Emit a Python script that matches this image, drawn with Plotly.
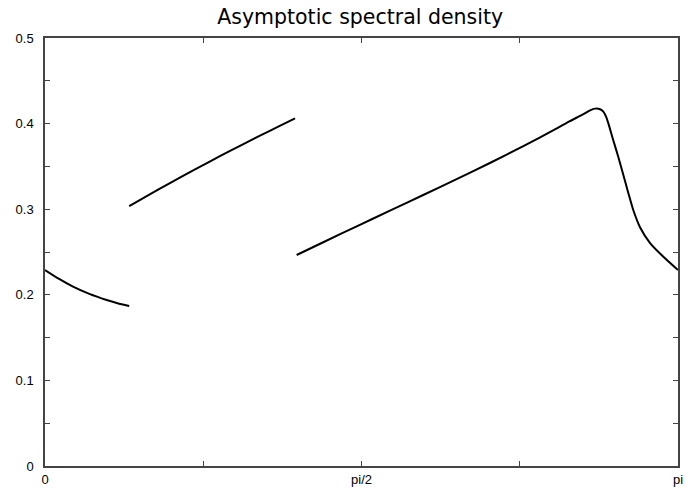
import math
import plotly.graph_objects as go

# Segment 1 (0 .. 2pi/15)
seg1_x = [0.0, 0.07, 0.139, 0.22, 0.306, 0.36, 0.418]
seg1_y = [0.2290, 0.2185, 0.2095, 0.2010, 0.1939, 0.1902, 0.1869]
# Segment 2 (2pi/15 .. 2pi/5)
seg2_x = [0.418, 0.52, 0.620, 0.74, 0.868, 0.97, 1.067, 1.16, 1.241]
seg2_y = [0.3037, 0.3174, 0.3305, 0.3459, 0.3619, 0.3743, 0.3859, 0.3968, 0.4062]
# Segment 3 (2pi/5 .. pi)
seg3_x = [1.249, 1.381, 1.547, 1.712, 1.877, 2.043, 2.208, 2.374, 2.540, 2.605, 2.672,
          2.705, 2.730, 2.755, 2.771, 2.784, 2.796, 2.820, 2.845, 2.870, 2.895, 2.920,
          2.953, 3.003, 3.069, 3.1416]
seg3_y = [0.2465, 0.2614, 0.2800, 0.2983, 0.3166, 0.3352, 0.3540, 0.3736, 0.3944, 0.4029, 0.4110,
          0.4155, 0.4175, 0.4168, 0.4139, 0.4085, 0.4003, 0.3808, 0.3613, 0.3402, 0.3190, 0.2988,
          0.2790, 0.2605, 0.2445, 0.2290]

x_tickvals = [0, math.pi / 4, math.pi / 2, 3 * math.pi / 4, math.pi]
x_ticktext = ["0", "", "pi/2", "", "pi"]
y_tickvals = [i * 0.05 for i in range(11)]
y_ticktext = ["0" if i == 0 else (f"{i*0.05:.1f}" if i % 2 == 0 else "") for i in range(11)]

fig = go.Figure()
for xs, ys in [(seg1_x, seg1_y), (seg2_x, seg2_y), (seg3_x, seg3_y)]:
    fig.add_trace(go.Scatter(x=xs, y=ys, mode="lines",
                             line=dict(color="black", width=2, shape="spline", smoothing=0.6),
                             showlegend=False, hoverinfo="skip"))

axis_common = dict(showgrid=False, zeroline=False, showline=True, linecolor="#444", linewidth=1.5,
                   ticks="inside", ticklen=5, tickcolor="#444", tickwidth=1, mirror="ticks",
                   automargin=False,
                   tickfont=dict(family="Liberation Sans", size=13, color="black"))

fig.update_layout(
    width=694, height=489,
    margin=dict(l=45, r=16, t=38, b=23),
    plot_bgcolor="white", paper_bgcolor="white",
    title=dict(text="Asymptotic spectral density", x=0.519, xanchor="center", y=0.965, yanchor="middle",
               font=dict(family="DejaVu Sans", size=20.5, color="black")),
    xaxis=dict(range=[0, math.pi], tickmode="array", tickvals=x_tickvals, ticktext=x_ticktext,
               ticklabelstandoff=1, **axis_common),
    yaxis=dict(range=[0, 0.5], tickmode="array", tickvals=y_tickvals, ticktext=y_ticktext,
               ticklabelstandoff=7, **axis_common),
)

fig.write_html("out.html")
